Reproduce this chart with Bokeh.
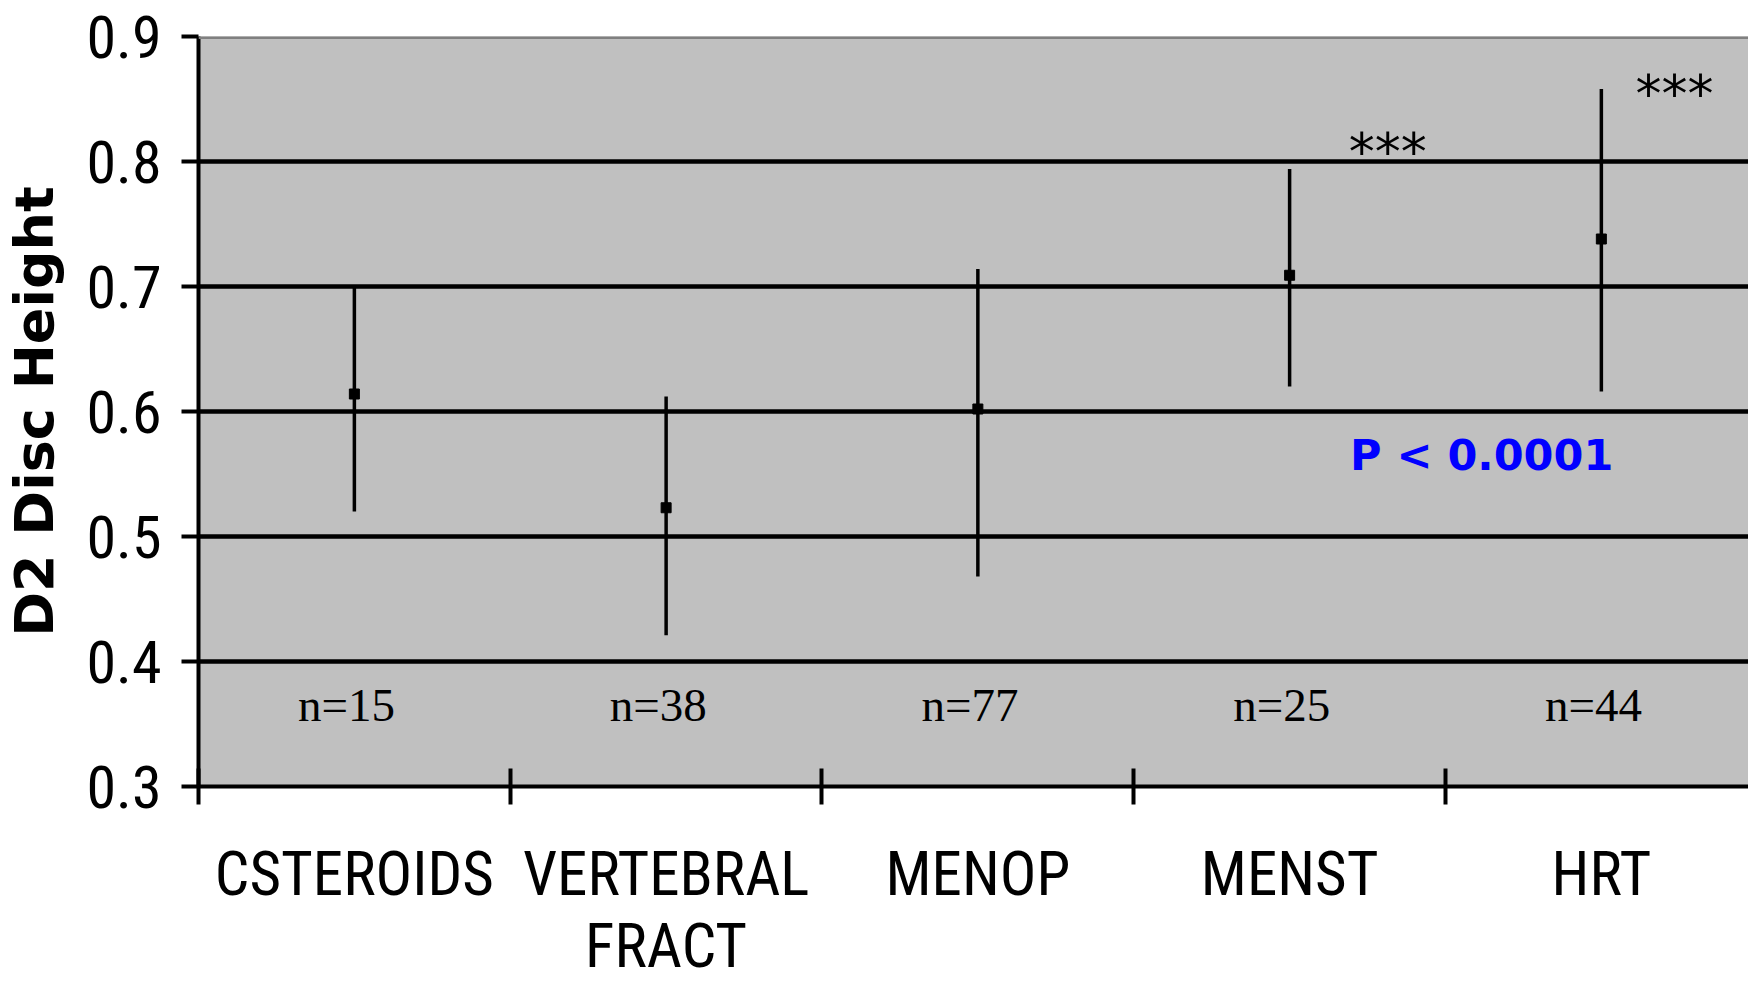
import numpy as np
from bokeh.plotting import figure
from bokeh.models import (ColumnDataSource, FixedTicker, LinearAxis, Span, Range1d,
                          Label, Grid, PrintfTickFormatter)
from bokeh.core.properties import value
from bokeh.embed import file_html
from bokeh.resources import INLINE

# ---- data ----
categories = ["CSTEROIDS", "VERTEBRAL\nFRACT", "MENOP", "MENST", "HRT"]
means = [0.614, 0.523, 0.602, 0.709, 0.738]
upper = [0.700, 0.612, 0.714, 0.794, 0.858]
lower = [0.520, 0.421, 0.468, 0.620, 0.616]
n_labels = ["n=15", "n=38", "n=77", "n=25", "n=44"]
y_ticks = [0.3, 0.4, 0.5, 0.6, 0.7, 0.8, 0.9]
grid_values = [0.4, 0.5, 0.6, 0.7, 0.8]
sig_text = "***"
p_text = "P < 0.0001"

idx = np.arange(len(categories))
centers = idx + 0.5
bounds = list(np.arange(len(categories) + 1).astype(float))

NARROW = "Roboto Condensed"

src = ColumnDataSource(dict(x=centers, mean=means, lo=lower, hi=upper,
                            n=n_labels, nx=centers - 0.025,
                            ny=[0.365] * len(categories)))

p = figure(width=1748, height=991, output_backend="svg", toolbar_location=None,
           x_range=Range1d(0, 4.972), y_range=Range1d(0.3, 0.9),
           x_axis_location=None, y_axis_location=None,
           min_border_left=197, min_border_right=0, min_border_top=36,
           min_border_bottom=205,
           background_fill_color="#C0C0C0", border_fill_color="white",
           outline_line_color=None)
p.xgrid.visible = False
p.ygrid.visible = False

# grid lines
grid = Grid(dimension=1, ticker=FixedTicker(ticks=grid_values),
            grid_line_color="black", grid_line_width=4.5)
p.add_layout(grid)
p.add_layout(Span(location=0.9, dimension="width", line_color="#808080", line_width=5))

# left axis
yax = LinearAxis(ticker=FixedTicker(ticks=y_ticks),
                 formatter=PrintfTickFormatter(format="%.1f"),
                 axis_label="D2 Disc Height",
                 axis_line_width=4, axis_line_color="black",
                 major_tick_in=0, major_tick_out=17, major_tick_line_width=4,
                 minor_tick_in=0, minor_tick_out=0,
                 major_label_standoff=20,
                 major_label_text_font=NARROW,
                 major_label_text_font_size="60px",
                 major_label_text_color="black",
                 axis_label_standoff=17,
                 axis_label_text_font="DejaVu Sans",
                 axis_label_text_font_style="bold",
                 axis_label_text_font_size="54px",
                 axis_label_text_color="black")
p.add_layout(yax, "left")

# bottom axis: labels at category centers, ticks (minor) at boundaries
xax = LinearAxis(ticker=FixedTicker(ticks=list(centers), minor_ticks=bounds),
                 major_label_overrides={float(c): lab for c, lab in zip(centers, categories)},
                 axis_line_width=4, axis_line_color="black",
                 major_tick_in=0, major_tick_out=0,
                 minor_tick_in=18, minor_tick_out=18, minor_tick_line_width=4,
                 minor_tick_line_color="black",
                 major_label_standoff=33,
                 major_label_text_font=NARROW,
                 major_label_text_font_size="61px",
                 major_label_text_line_height=1.0,
                 major_label_text_color="black")
p.add_layout(xax, "below")

# error bars and means
p.segment(x0="x", y0="lo", x1="x", y1="hi", source=src, line_color="black", line_width=3.5)
p.scatter(x="x", y="mean", source=src, marker="square", size=10,
          fill_color="black", line_color="black")

# n labels
p.text(x="nx", y="ny", text="n", source=src, text_font=value("Liberation Serif"),
       text_font_size="47px", text_align="center", text_baseline="middle",
       text_color="black")

# significance markers
p.add_layout(Label(x=3.815, y=0.808, text=sig_text, text_font="DejaVu Sans",
                   text_font_size="52px", text_align="center", text_baseline="middle",
                   text_color="black"))
p.add_layout(Label(x=4.735, y=0.854, text=sig_text, text_font="DejaVu Sans",
                   text_font_size="52px", text_align="center", text_baseline="middle",
                   text_color="black"))
p.add_layout(Label(x=4.116, y=0.565, text=p_text, text_font="DejaVu Sans",
                   text_font_style="bold", text_font_size="43px", text_align="center",
                   text_baseline="middle", text_color="#0000FF"))

open("out.html", "w").write(file_html(p, INLINE))
